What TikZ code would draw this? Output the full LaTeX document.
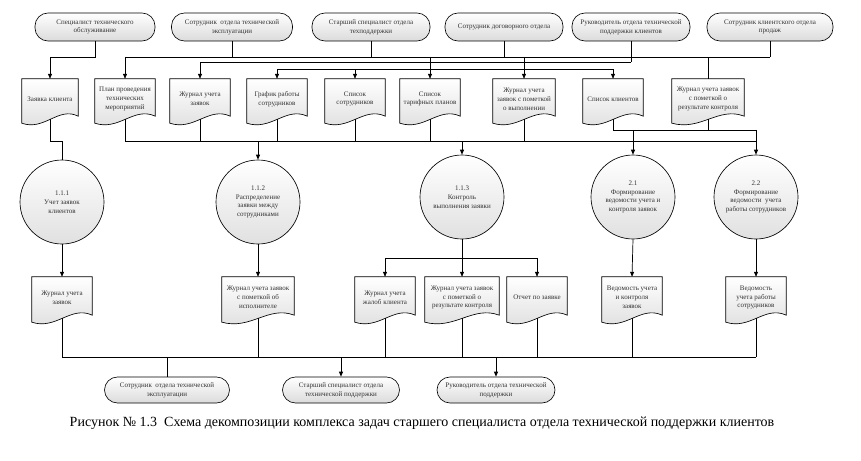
\documentclass[tikz,border=0pt]{standalone}
\usepackage{fontspec}
\setmainfont{Liberation Serif}
\usetikzlibrary{arrows.meta,backgrounds,calc}

\newcommand{\nodefont}{\fontsize{7}{8.8}\selectfont}

\tikzset{
  every node/.style={font=\nodefont, text=black!80},
  term/.style={draw, rounded corners=13pt, minimum height=28pt, align=center,
    top color=white, bottom color=black!14, line width=0.65pt, inner sep=1pt},
  proc/.style={draw, circle, minimum size=84pt, align=center, inner sep=0pt,
    top color=white, bottom color=black!12, line width=0.65pt},
  doc/.style={minimum height=40pt, align=center, inner sep=1pt},
  docline/.style={draw, line width=0.65pt, top color=white, bottom color=black!13},
  link/.style={draw, line width=0.7pt},
  arr/.style={link, -{Triangle[length=5pt,width=4pt]}}
}

\begin{document}
\begin{tikzpicture}[x=1pt, y=-1pt]
  \useasboundingbox (0,0) rectangle (861,460);

  % rails of the buses
  \coordinate (yA) at (0,57);
  \coordinate (yB) at (0,62);
  \coordinate (yC) at (0,69);
  \coordinate (yE) at (0,130);
  \coordinate (yD) at (0,141);
  \coordinate (yF) at (0,258);
  \coordinate (yG) at (0,357);

  % upper terminators
  \node[term, minimum width=120pt] (t1) at (95,27) {Специалист технического\\обслуживание};
  \node[term, minimum width=121pt] (t2) at (232,27) {Сотрудник\ \ отдела технической\\эксплуатации};
  \node[term, minimum width=118pt] (t3) at (371,27) {Старший специалист отдела\\техподдержки};
  \node[term, minimum width=118pt] (t4) at (504,27) {Сотрудник договорного отдела};
  \node[term, minimum width=118pt] (t5) at (631,27) {Руководитель отдела технической\\поддержки клиентов};
  \node[term, minimum width=126pt] (t6) at (770,27) {Сотрудник клиентского отдела\\продаж};

  % input documents
  \node[doc, minimum width=56pt] (d1) at (50,99) {Заявка клиента};
  \node[doc, minimum width=60pt] (d2) at (125,99) {План проведения\\технических\\мероприятий};
  \node[doc, minimum width=60pt] (d3) at (200,99) {Журнал учета\\заявок};
  \node[doc, minimum width=60pt] (d4) at (277,99) {График работы\\сотрудников};
  \node[doc, minimum width=60pt] (d5) at (355,99) {Список\\сотрудников};
  \node[doc, minimum width=60pt] (d6) at (430,99) {Список\\тарифных планов};
  \node[doc, minimum width=62pt] (d7) at (524,99) {Журнал учета\\заявок с пометкой\\о выполнении};
  \node[doc, minimum width=60pt] (d8) at (613,99) {Список клиентов};
  \node[doc, minimum width=72pt] (d9) at (708,99) {Журнал учета заявок\\с пометкой о\\результате контроля};

  % processes
  \node[proc] (c1) at (62,202) {1.1.1\\Учет заявок\\клиентов};
  \node[proc] (c2) at (258,202) {1.1.2\\Распределение\\заявки между\\сотрудниками};
  \node[proc] (c3) at (462,197) {1.1.3\\Контроль\\выполнения заявки};
  \node[proc] (c4) at (633,197) {2.1\\Формирование\\ведомости учета и\\контроля заявок};
  \node[proc] (c5) at (756,197) {2.2\\Формирование\\ведомости\ \ учета\\работы сотрудников};

  % output documents
  \node[doc, minimum height=41pt, minimum width=60pt] (b1) at (62,297.5) {Журнал учета\\заявок};
  \node[doc, minimum height=41pt, minimum width=72pt] (b2) at (258,297.5) {Журнал учета заявок\\с пометкой об\\исполнителе};
  \node[doc, minimum height=41pt, minimum width=60pt] (b3) at (385,297.5) {Журнал учета\\жалоб клиента};
  \node[doc, minimum height=41pt, minimum width=74pt] (b4) at (462,297.5) {Журнал учета заявок\\с пометкой о\\результате контроля};
  \node[doc, minimum height=41pt, minimum width=60pt] (b5) at (537,297.5) {Отчет по заявке};
  \node[doc, minimum height=41pt, minimum width=60pt] (b6) at (632,297.5) {Ведомость учета\\и контроля\\заявок};
  \node[doc, minimum height=41pt, minimum width=60pt] (b7) at (756,297.5) {Ведомость\\учета работы\\сотрудников};

  % lower terminators
  \node[term, minimum width=125pt, minimum height=26pt] (e1) at (167,390) {Сотрудник\ \ отдела технической\\эксплуатации};
  \node[term, minimum width=117pt, minimum height=26pt] (e2) at (341,390) {Старший специалист отдела\\технической поддержки};
  \node[term, minimum width=118pt, minimum height=26pt] (e3) at (496,390) {Руководитель отдела технической\\поддержки};

  % document outlines with wavy bottom
  \begin{scope}[on background layer]
    \foreach \n in {d1,d2,d3,d4,d5,d6,d7,d8,d9,b1,b2,b3,b4,b5,b6,b7}
      \path[docline] (\n.north west) -- (\n.north east) -- ($(\n.south east)+(0,-3)$)
        .. controls ($(\n.south east)!0.35!(\n.south west)+(0,-13)$)
        and ($(\n.south west)!0.4!(\n.south east)+(0,12)$) .. ($(\n.south west)+(0,4)$) -- cycle;
  \end{scope}

  % top wiring
  \draw[arr] (t1.south) -- (t1.south |- yA) -| (d1.north);
  \draw[link] (d2.north |- yA) -- (t6.south |- yA);
  \foreach \t in {t2,t3,t4,t6}
    \draw[link] (\t.south) -- (\t.south |- yA);
  \draw[link] (t5.south) -- (t5.south |- yB);
  \draw[arr] (d2.north |- yA) -- (d2.north);
  \draw[link] (d3.north |- yB) -- (t5.south |- yB);
  \draw[arr] (d3.north |- yB) -- (d3.north);
  \draw[link] (d4.north |- yC) -- (d8.north |- yC);
  \foreach \n in {d4,d5,d8}
    \draw[arr] (\n.north |- yC) -- (\n.north);
  \foreach \n in {d6,d7}
    \draw[arr] (\n.north |- yA) -- (\n.north);
  \draw[link] (d9.north) -- (d9.north |- yA);

  % middle wiring
  \draw[link] (d1.south) -- (d1.south |- yD) -| (c1.north);
  \draw[link] (d2.south |- yD) -- (c5.north |- yD);
  \foreach \n in {d2,d3,d4,d5,d6,d7}
    \draw[link] (\n.south) -- (\n.south |- yD);
  \draw[link] (d8.south) |- (c5.north |- yE);
  \draw[link] (d9.south) -- (d9.south |- yE);
  \foreach \n in {c4,c5}
    \draw[arr] (\n.north |- yE) -- (\n.north);
  \foreach \n in {c2,c3}
    \draw[arr] (\n.north |- yD) -- (\n.north);

  % process outputs
  \draw[arr] (c1.south) -- (b1.north);
  \draw[arr] (c2.south) -- (b2.north);
  \draw[link] (c3.south) -- (c3.south |- yF);
  \draw[link] (b3.north |- yF) -- (b5.north |- yF);
  \foreach \n in {b3,b4,b5}
    \draw[arr] (\n.north |- yF) -- (\n.north);
  \draw[arr] (c4.south) -- (b6.north);
  \draw[arr] (c5.south) -- (b7.north);

  % bottom wiring
  \draw[link] (b1.south |- yG) -- (b7.south |- yG);
  \foreach \n in {b1,b2,b3,b4,b5,b6,b7}
    \draw[link] (\n.south) -- (\n.south |- yG);
  \draw[link] (e1.north |- yG) -- (e1.north);
  \draw[arr] (e2.north |- yG) -- (e2.north);
  \draw[arr] (e3.north |- yG) -- (e3.north);

  % caption
  \node[font=\fontsize{14}{16}\selectfont, text=black] (cap) at (422,423)
    {Рисунок № 1.3\ \ Схема декомпозиции комплекса задач старшего специалиста отдела технической поддержки клиентов};
\end{tikzpicture}
\end{document}
